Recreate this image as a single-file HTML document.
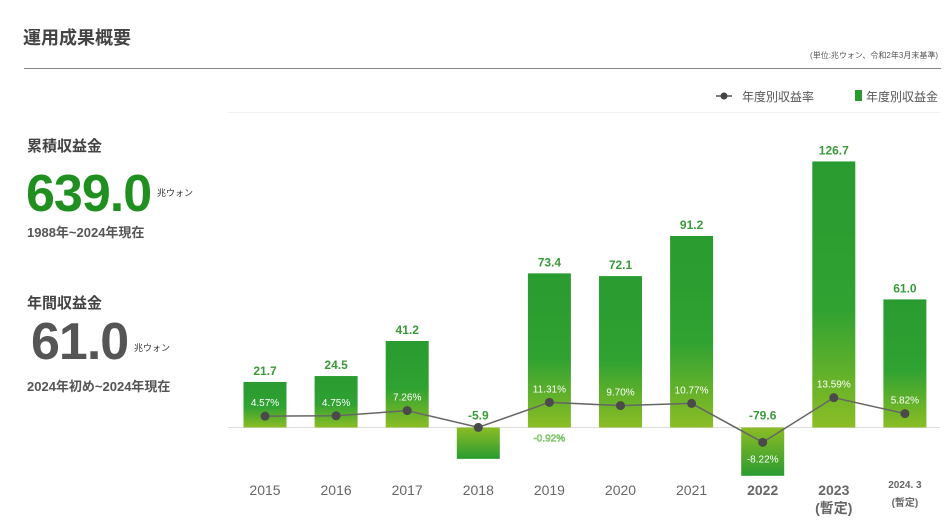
<!DOCTYPE html>
<html><head><meta charset="utf-8">
<style>
body{margin:0;width:950px;height:528px;background:#fff;font-family:"Liberation Sans","Noto Sans CJK JP",sans-serif;overflow:hidden;position:relative}
.t{position:absolute;white-space:nowrap}
</style></head><body>
<div class="t" style="left:23px;top:24px;font-size:18px;font-weight:bold;color:#444">運用成果概要</div>
<div class="t" style="right:12px;top:50px;font-size:8px;color:#555">(単位:兆ウォン、令和2年3月末基準)</div>
<div style="position:absolute;left:24px;top:68px;width:917px;height:1px;background:#888"></div>

<div class="t" style="left:27px;top:135px;font-size:15px;font-weight:bold;color:#444">累積収益金</div>
<div class="t" style="left:26px;top:168px;font-size:52px;font-weight:bold;color:#1f8f1f;letter-spacing:-1px;line-height:52px">639.0</div>
<div class="t" style="left:157px;top:186px;font-size:9px;color:#333">兆ウォン</div>
<div class="t" style="left:27px;top:222px;font-size:13px;font-weight:bold;color:#555">1988年~2024年現在</div>

<div class="t" style="left:27px;top:292px;font-size:15px;font-weight:bold;color:#444">年間収益金</div>
<div class="t" style="left:31px;top:316px;font-size:52px;font-weight:bold;color:#555;letter-spacing:-1px;line-height:52px">61.0</div>
<div class="t" style="left:134px;top:341px;font-size:9px;color:#333">兆ウォン</div>
<div class="t" style="left:27px;top:376px;font-size:13px;font-weight:bold;color:#555">2024年初め~2024年現在</div>

<svg id="chart" width="950" height="528" style="position:absolute;left:0;top:0">
<defs>
<linearGradient id="g" x1="0" y1="0" x2="0" y2="1"><stop offset="0" stop-color="#2a9b30"/><stop offset="0.55" stop-color="#2fa232"/><stop offset="1" stop-color="#8bbd25"/></linearGradient>
<linearGradient id="gn" x1="0" y1="0" x2="0" y2="1"><stop offset="0" stop-color="#8bbd25"/><stop offset="1" stop-color="#2a9b30"/></linearGradient>
</defs>
<line x1="228" y1="112.5" x2="940" y2="112.5" stroke="#f0f0f0"/>
<g>
<line x1="716" y1="96" x2="732" y2="96" stroke="#555" stroke-width="1.5"/><circle cx="724" cy="96" r="3.5" fill="#444"/>
<text x="742" y="101" font-size="12" fill="#555">年度別収益率</text>
<rect x="855" y="90" width="7" height="11" fill="#2a9b30"/>
<text x="866" y="101" font-size="12" fill="#555">年度別収益金</text>
</g>
<line x1="228" y1="427.5" x2="940" y2="427.5" stroke="#ddd"/>
<g id="bars"></g><g id="line"></g><g id="labels"></g>
</svg>
<script>
const years=["2015","2016","2017","2018","2019","2020","2021","2022","2023","2024. 3"];
const subLabels=["","","","","","","","","(暫定)","(暫定)"];
const income=[21.7,24.5,41.2,-5.9,73.4,72.1,91.2,-79.6,126.7,61.0];
const incomeLabels=["21.7","24.5","41.2","-5.9","73.4","72.1","91.2","-79.6","126.7","61.0"];
const rates=[4.57,4.75,7.26,-0.92,11.31,9.70,10.77,-8.22,13.59,5.82];
const rateLabels=["4.57%","4.75%","7.26%","-0.92%","11.31%","9.70%","10.77%","-8.22%","13.59%","5.82%"];
const NS="http://www.w3.org/2000/svg";
const x0=265,step=71.1,base=427.5,bw=43;
const xs=i=>x0+i*step;
const yv=v=>v>=0?base-v*2.1:base+30+Math.abs(v)*0.23;
const yr=r=>base-2-r*2.05;
function mk(t,a,p){const e=document.createElementNS(NS,t);for(const k in a)e.setAttribute(k,a[k]);p.appendChild(e);return e;}
const B=document.getElementById('bars'),L=document.getElementById('line'),T=document.getElementById('labels');
income.forEach((v,i)=>{
 const y=yv(v),top=Math.min(y,base),h=Math.abs(y-base);
 const r=mk('rect',{x:xs(i)-bw/2,y:top,width:bw,height:h,fill:v>=0?'url(#g)':'url(#gn)'},B);
 
 
 const ly=v>=0?y-7:base-8;
 const t=mk('text',{x:xs(i),y:ly,'text-anchor':'middle','font-size':12,'font-weight':'bold',fill:'#3a9a3a'},T);
 t.textContent=incomeLabels[i];
 
 
 const last=i==9;
 const yl=mk('text',{x:xs(i),y:last?488:495,'text-anchor':'middle','font-size':last?10:14,fill:'#666','font-weight':i>=7?'bold':'normal'},T);
 yl.textContent=years[i];
 
 
 if(subLabels[i]){const s=mk('text',{x:xs(i),y:last?506:513,'text-anchor':'middle','font-size':last?10:14,fill:'#666','font-weight':'bold'},T);
 s.textContent=subLabels[i];
 
 }
});
const pts=rates.map((r,i)=>xs(i)+','+yr(r)).join(' ');
const pl=mk('polyline',{points:pts,fill:'none',stroke:'#666','stroke-width':1.5},L);


rates.forEach((r,i)=>{
 const c=mk('circle',{cx:xs(i),cy:yr(r),r:4.5,fill:'#4a4a4a'},L);
 
 
 const below=r<0, odd=(i==3);
 const t=mk('text',{x:odd?xs(i)+71:xs(i),y:below?yr(r)+(odd?14:20):yr(r)-10,'text-anchor':'middle','font-size':10,fill:odd?'#d8f0c8':'#fff',stroke:odd?'#6fbf5a':'none','stroke-width':odd?0.6:0},T);
 t.textContent=rateLabels[i];
 
 
});
</script>
</body></html>
